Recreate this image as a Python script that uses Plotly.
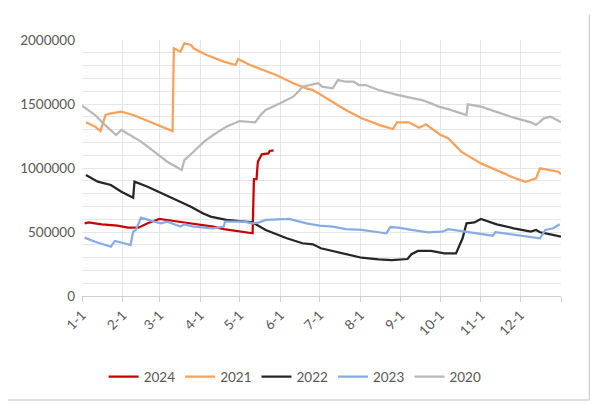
import plotly.graph_objects as go

# Day-of-year (0 = Jan 1) and values for each year
days_2024 = [2, 5, 15, 27, 35, 43, 50, 59, 70, 83, 93, 100, 108, 120, 130, 131, 133, 134, 137, 142, 143, 146]
vals_2024 = [568000, 575000, 560000, 550000, 534000, 534000, 568000, 602000, 586000, 568000, 555000, 542000,
             523000, 503000, 490000, 914000, 914000, 1049000, 1107000, 1114000, 1133000, 1138000]

days_2021 = [3, 10, 14, 18, 22, 30, 39, 50, 60, 69, 70, 75, 78, 83, 85, 95, 108, 117, 119, 128, 138, 148,
             161, 171, 176, 182, 188, 201, 213, 228, 237, 240, 249, 257, 262, 267, 273, 279, 289, 304, 316,
             329, 338, 346, 349, 357, 363, 365]
vals_2021 = [1357000, 1323000, 1289000, 1414000, 1427000, 1440000, 1414000, 1367000, 1323000, 1289000,
             1935000, 1909000, 1974000, 1961000, 1935000, 1883000, 1831000, 1805000, 1851000, 1805000,
             1766000, 1727000, 1662000, 1622000, 1609000, 1570000, 1531000, 1453000, 1388000, 1331000,
             1305000, 1357000, 1357000, 1315000, 1341000, 1305000, 1260000, 1232000, 1128000, 1036000,
             984000, 924000, 893000, 919000, 997000, 984000, 971000, 951000]

days_2022 = [3, 12, 22, 30, 39, 40, 50, 61, 73, 83, 92, 98, 110, 123, 130, 140, 156, 168, 176, 182, 191,
             203, 213, 226, 236, 248, 251, 256, 266, 272, 276, 285, 290, 293, 299, 304, 316, 329, 342,
             346, 349, 357, 365]
vals_2022 = [945000, 893000, 867000, 815000, 768000, 893000, 854000, 802000, 750000, 698000, 646000,
             620000, 594000, 581000, 575000, 516000, 451000, 412000, 404000, 373000, 352000, 320000,
             299000, 286000, 281000, 289000, 326000, 352000, 352000, 341000, 333000, 333000, 451000,
             568000, 575000, 602000, 560000, 529000, 503000, 516000, 498000, 482000, 463000]

days_2023 = [2, 10, 22, 25, 32, 37, 39, 41, 45, 50, 55, 60, 65, 75, 78, 85, 92, 100, 108, 109, 123, 130,
             135, 140, 158, 171, 181, 191, 201, 213, 226, 232, 235, 241, 251, 264, 274, 276, 279, 291,
             304, 313, 315, 329, 342, 349, 353, 359, 364]
vals_2023 = [456000, 424000, 385000, 430000, 412000, 398000, 503000, 516000, 612000, 594000, 581000,
             568000, 581000, 542000, 560000, 542000, 534000, 529000, 542000, 581000, 581000, 568000,
             575000, 594000, 602000, 568000, 550000, 542000, 523000, 516000, 498000, 490000, 539000,
             534000, 516000, 498000, 503000, 508000, 523000, 503000, 482000, 471000, 498000, 477000,
             456000, 451000, 516000, 529000, 560000]

days_2020 = [0, 10, 17, 26, 30, 36, 45, 55, 65, 76, 78, 85, 93, 100, 110, 120, 132, 136, 140, 151, 161,
             166, 168, 176, 180, 183, 191, 195, 201, 207, 211, 216, 226, 241, 259, 266, 272, 279, 293,
             294, 304, 317, 329, 342, 346, 352, 357, 362, 365]
vals_2020 = [1487000, 1414000, 1341000, 1258000, 1297000, 1258000, 1206000, 1128000, 1049000, 984000,
             1062000, 1127000, 1206000, 1258000, 1323000, 1367000, 1357000, 1414000, 1453000, 1505000,
             1557000, 1609000, 1635000, 1654000, 1662000, 1635000, 1622000, 1687000, 1674000, 1674000,
             1648000, 1648000, 1609000, 1570000, 1531000, 1505000, 1479000, 1460000, 1414000, 1497000,
             1479000, 1435000, 1393000, 1357000, 1336000, 1388000, 1401000, 1375000, 1357000]

month_days = [0, 31, 59, 90, 120, 151, 181, 212, 243, 273, 304, 334, 365]
month_labels = ["1-1", "2-1", "3-1", "4-1", "5-1", "6-1", "7-1", "8-1", "9-1", "10-1", "11-1", "12-1", ""]

series = [
    ("2024", days_2024, vals_2024, "#C80000"),
    ("2021", days_2021, vals_2021, "#F9A05A"),
    ("2022", days_2022, vals_2022, "#262626"),
    ("2023", days_2023, vals_2023, "#86ADE3"),
    ("2020", days_2020, vals_2020, "#B8B8B8"),
]

fig = go.Figure()
for name, x, y, c in series:
    fig.add_trace(go.Scatter(x=x, y=y, name=name, mode="lines",
                             line=dict(color=c, width=2.25)))

grid = "#E6E6E6"
fig.update_layout(
    width=590, height=397,
    margin=dict(l=69, r=37, t=32, b=109),
    paper_bgcolor="white", plot_bgcolor="white",
    font=dict(family="Lato", size=13, color="#595959"),
    showlegend=True,
    legend=dict(orientation="h", x=0.445, xanchor="center", y=-0.316, yanchor="middle",
                font=dict(size=13.5, color="#595959")),
    xaxis=dict(range=[0, 365], tickmode="array", tickvals=month_days, ticktext=month_labels,
               tickangle=-45, showgrid=True, gridcolor=grid, gridwidth=1,
               ticks="outside", ticklen=5, tickcolor="#D0D0D0",
               showline=True, linecolor="#D0D0D0", linewidth=1, zeroline=False,
               tickfont=dict(size=13.5, color="#595959")),
    yaxis=dict(range=[0, 2000000], tickmode="array",
               tickvals=[0, 500000, 1000000, 1500000, 2000000],
               ticktext=["0", "500000", "1000000", "1500000", "2000000"],
               showgrid=True, gridcolor=grid, gridwidth=1, zeroline=False,
               ticklabelstandoff=6,
               minor=dict(tickmode="linear", tick0=0, dtick=100000, showgrid=True,
                          gridcolor=grid, gridwidth=1),
               tickfont=dict(size=13.5, color="#595959")),
    shapes=[
        dict(type="line", xref="paper", yref="paper", x0=1.06, x1=1.06, y0=-0.406, y1=1.1,
             line=dict(color="#D0D0D0", width=2)),
        dict(type="line", xref="paper", yref="paper", x0=-0.2, x1=1.06, y0=-0.406, y1=-0.406,
             line=dict(color="#D4D4D4", width=1.5)),
    ],
)

fig.write_html("out.html")
